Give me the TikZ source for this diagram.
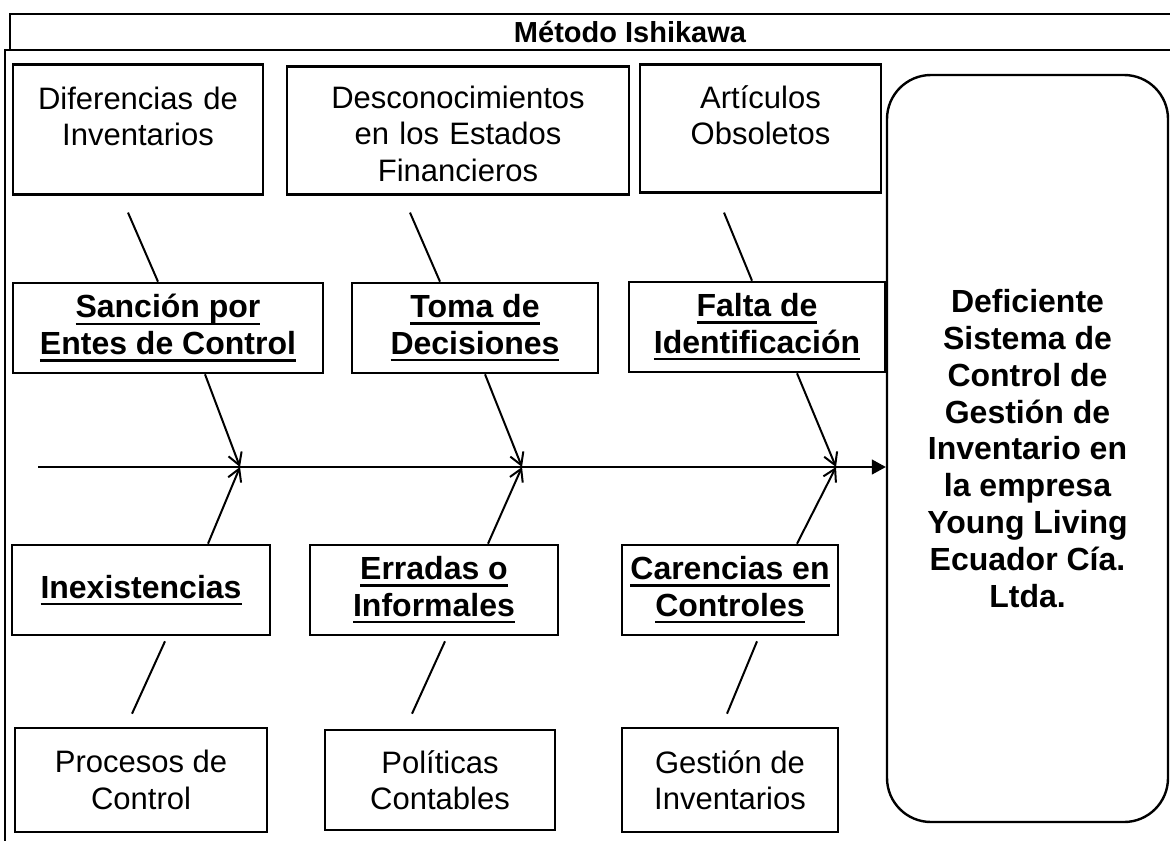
\documentclass[tikz,border=0pt]{standalone}
\usepackage{fontspec}
\setmainfont{Liberation Sans}
\usetikzlibrary{arrows.meta}

\newcommand{\ulin}[1]{\setbox0\hbox{#1}\rlap{\rule[-3.6pt]{\wd0}{1.3pt}}\box0}

\tikzset{
  causa/.style={draw, line width=1.3pt, inner sep=0pt, align=center, font=\fontsize{15.5}{18.2}\selectfont},
  subcausa/.style={causa, font=\bfseries\fontsize{16}{18.2}\selectfont, minimum height=45pt},
  flecha/.style={line width=1pt, -{Straight Barb[length=6pt,width=7pt]}},
  rama/.style={line width=1pt},
}

\begin{document}
\begin{tikzpicture}[x=0.5pt, y=-0.5pt]
        \useasboundingbox (0,0) rectangle (1170,840);
        % marco
        \draw[line width=1pt] (10,14) rectangle (1185,50);
        \draw[line width=1pt] (5,50) rectangle (1185,845);
        \node[font=\bfseries\fontsize{14.5}{17}\selectfont] (Titulo) at (630,32) {Método Ishikawa};

        % efectos
        \node[causa, anchor=north, text width=125pt, text height=22.5pt, text depth=42.5pt] (Diferencias) at (138,63) {Diferencias de\\Inventarios};
        \node[causa, anchor=north, text width=171pt, text height=21pt, text depth=43pt] (Desconocimientos) at (458,65) {Desconocimientos\\en los Estados\\Financieros};
        \node[causa, anchor=north, text width=120.5pt, text height=22pt, text depth=42pt] (Articulos) at (760.5,63) {Artículos\\Obsoletos};

        \node[subcausa, minimum width=155pt] (Sancion) at (168,328) {\ulin{Sanción por}\\\ulin{Entes de Control}};
        \node[subcausa, minimum width=123pt] (Toma) at (475,328) {\ulin{Toma de}\\\ulin{Decisiones}};
        \node[subcausa, minimum width=128pt] (Falta) at (757,327) {\ulin{Falta de}\\\ulin{Identificación}};

        % causas
        \node[subcausa, minimum width=129pt] (Inexistencias) at (141,590) {\ulin{Inexistencias}};
        \node[subcausa, minimum width=124pt] (Erradas) at (434,590) {\ulin{Erradas o}\\\ulin{Informales}};
        \node[subcausa, minimum width=108pt] (Carencias) at (730,590) {\ulin{Carencias en}\\\ulin{Controles}};

        \node[causa, minimum width=126pt, minimum height=52pt] (Procesos) at (141,780) {Procesos de\\Control};
        \node[causa, minimum width=115pt, minimum height=50pt] (Politicas) at (440,780) {Políticas\\Contables};
        \node[causa, minimum width=108pt, minimum height=52pt] (Gestion) at (730,780) {Gestión de\\Inventarios};

        % problema
        \node[draw, line width=1.2pt, rounded corners=22pt, minimum width=140.5pt, minimum height=373.5pt, align=center, font=\bfseries\fontsize{16}{18.4}\selectfont] (Efecto) at (1027.5,448.5) {Deficiente\\Sistema de\\Control de\\Gestión de\\Inventario en\\la empresa\\Young Living\\Ecuador Cía.\\Ltda.};

        % espina
        \coordinate (Cola) at (38,467);
        \coordinate (p1) at (240,467);
        \coordinate (p2) at (522,467);
        \coordinate (p3) at (836,467);
        \draw[line width=0.7pt, -{Triangle[length=7pt,width=7.5pt]}] (Cola) -- (Cola -| Efecto.west);

        \draw[rama] ([shift={(-10,17)}]Diferencias.south) -- ([shift={(-10,0)}]Sancion.north);
        \draw[rama] ([shift={(-48,17)}]Desconocimientos.south) -- ([shift={(-35,0)}]Toma.north);
        \draw[rama] ([shift={(-36.5,19)}]Articulos.south) -- ([shift={(-5,0)}]Falta.north);

        \draw[flecha] ([shift={(37,0)}]Sancion.south) -- (p1);
        \draw[flecha] ([shift={(10,0)}]Toma.south) -- (p2);
        \draw[flecha] ([shift={(40,0)}]Falta.south) -- (p3);
        \draw[flecha] ([shift={(67,0)}]Inexistencias.north) -- (p1);
        \draw[flecha] ([shift={(54,0)}]Erradas.north) -- (p2);
        \draw[flecha] ([shift={(67,0)}]Carencias.north) -- (p3);

        \draw[rama] ([shift={(24,5)}]Inexistencias.south) -- ([shift={(-9,-13)}]Procesos.north);
        \draw[rama] ([shift={(11,5)}]Erradas.south) -- ([shift={(-28,-15)}]Politicas.north);
        \draw[rama] ([shift={(27,5)}]Carencias.south) -- ([shift={(-3,-13)}]Gestion.north);
\end{tikzpicture}
\end{document}
